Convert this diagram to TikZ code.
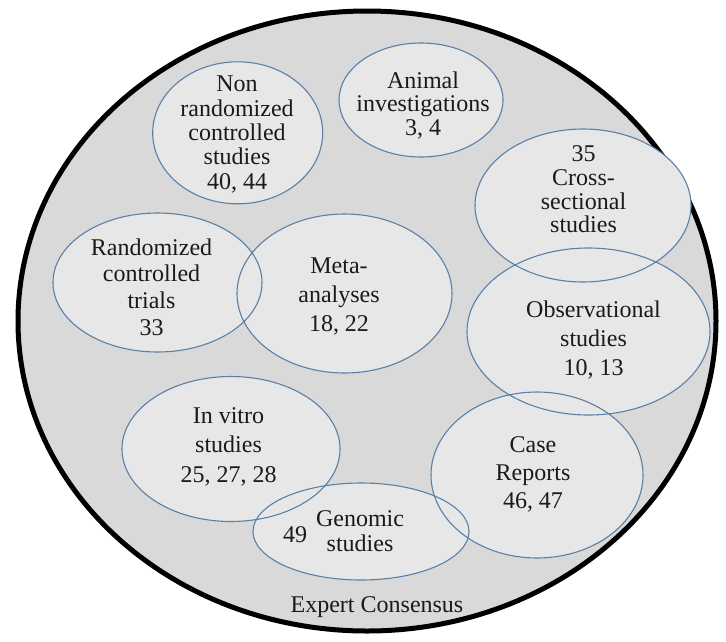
\documentclass[tikz,border=0pt]{standalone}
\usepackage{fontspec}
\setmainfont{Liberation Serif}
\definecolor{outerfill}{HTML}{D9D9D9}
\definecolor{innerfill}{HTML}{E7E7E7}
\definecolor{rim}{HTML}{5A80A8}
\definecolor{ink}{HTML}{1A1A1A}
\tikzset{
  lab/.style={align=center, text=ink, inner sep=0pt},
  ringfill/.style={fill=innerfill},
  ringline/.style={draw=rim, line width=1.1pt},
}
\newcommand{\fs}[1]{\fontsize{24}{#1}\selectfont}
\begin{document}
\begin{tikzpicture}[x=1pt,y=-1pt]
\useasboundingbox (0,0) rectangle (726,641);
\fill[white] (0,0) rectangle (726,641);
% outer region
\draw[fill=outerfill, draw=black, line width=5pt] (367,321) ellipse [x radius=349pt, y radius=310pt];
% fills first
\foreach \cx/\cy/\rx/\ry in {237.7/132.8/85/71, 421/100/82/57, 583/205.5/108/76.5, 157.5/282.5/104.5/69.5,
  344.5/293.5/107.5/79.5, 588.5/331.5/121.5/83.5, 231/449/109/72.5, 537/475/106/83, 361/531.5/108/48.5}
  \fill[ringfill] (\cx,\cy) ellipse [x radius=\rx pt, y radius=\ry pt];
% outlines
\foreach \cx/\cy/\rx/\ry in {237.7/132.8/85/71, 421/100/82/57, 583/205.5/108/76.5, 157.5/282.5/104.5/69.5,
  344.5/293.5/107.5/79.5, 588.5/331.5/121.5/83.5, 231/449/109/72.5, 537/475/106/83, 361/531.5/108/48.5}
  \draw[ringline] (\cx,\cy) ellipse [x radius=\rx pt, y radius=\ry pt];
% labels
\node[lab, font=\fs{24.3}] (nonrand) at (237,134.5) {Non\\randomized\\controlled\\studies\\40, 44};
\node[lab, font=\fs{23.5}] (animal) at (423,105.5) {Animal\\investigations\\3, 4};
\node[lab, font=\fs{23.7}] (cross) at (583.5,189.5) {35\\Cross-\\sectional\\studies};
\node[lab, font=\fs{26.7}] (rct) at (151.5,287) {Randomized\\controlled\\trials\\33};
\node[lab, font=\fs{29}] (meta) at (339,296) {Meta-\\analyses\\18, 22};
\node[lab, font=\fs{29}] (obs) at (593.5,340) {Observational\\studies\\10, 13};
\node[lab, font=\fs{29.5}] (vitro) at (228.5,446.5) {In vitro\\studies\\25, 27, 28};
\node[lab, font=\fs{28}] (case) at (533,474) {Case\\Reports\\46, 47};
\node[lab, font=\fs{25}] (genomic) at (360,531.5) {Genomic\\studies};
\node[lab, font=\fs{25}] (gennum) at (295,535) {49};
\node[lab, font=\fs{25}] (expert) at (377,607.5) {Expert Consensus};
\end{tikzpicture}
\end{document}
